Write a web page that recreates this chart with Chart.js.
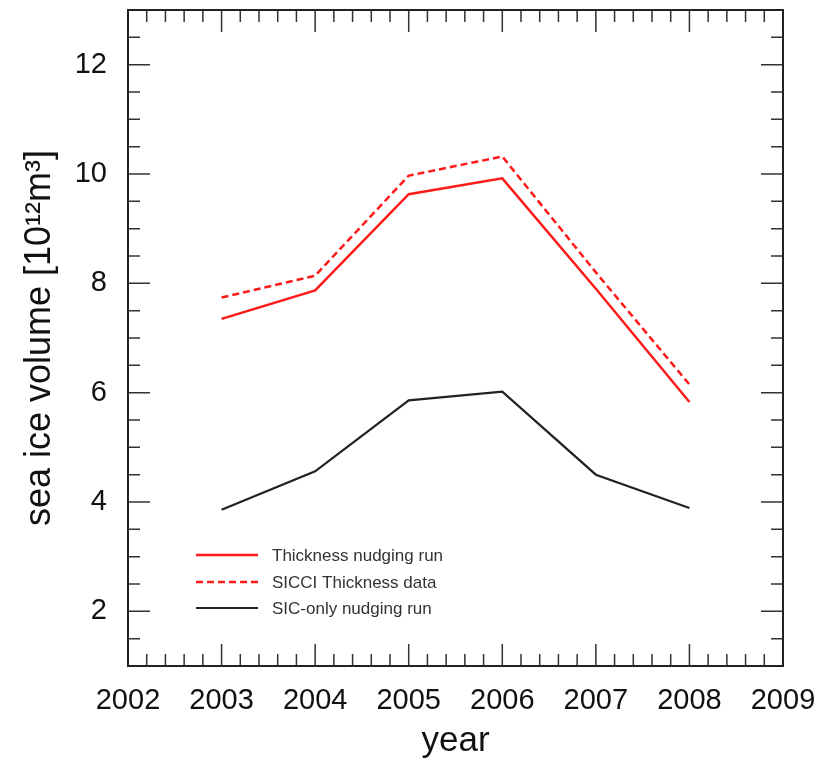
<!DOCTYPE html>
<html>
<head>
<meta charset="utf-8">
<script src="https://cdn.jsdelivr.net/npm/chart.js@4.4.1/dist/chart.umd.min.js"></script>
<style>
  body { margin: 0; background: #fff; }
  #mycanvas { display: block; }
</style>
</head>
<body>
<canvas id="mycanvas" width="819" height="762"></canvas>
<script>
// data
var years = [2003, 2004, 2005, 2006, 2007, 2008];
var thicknessRun = [7.35, 7.87, 9.63, 9.92, 7.90, 5.83];
var sicciData = [7.74, 8.14, 9.97, 10.32, 8.20, 6.15];
var sicOnlyRun = [3.86, 4.56, 5.86, 6.02, 4.50, 3.89];

var xTicks = [2002, 2003, 2004, 2005, 2006, 2007, 2008, 2009];
var yTicks = [2, 4, 6, 8, 10, 12];
var seriesNames = ['Thickness nudging run', 'SICCI Thickness data', 'SIC-only nudging run'];

function pts(vals) {
	var out = [];
	for (var i in years) {
		out.push({x: years[i], y: vals[i]});
	}
	return out;
}

// stop chart.js from growing the padding for the edge tick labels
function noPad(s) {
	s.paddingTop = 0;
	s.paddingBottom = 0;
	s.paddingLeft = 0;
	s.paddingRight = 0;
}

var frameTicks = {
	id: 'frameTicks',
	afterDraw: function(chart) {
		var ctx = chart.ctx;
		var a = chart.chartArea;
		var x = chart.scales.x, y = chart.scales.y;
		ctx.save();
		ctx.strokeStyle = '#333';
		ctx.lineWidth = 1.5;
		ctx.beginPath();
		// minor ticks every 0.2 yr, major every year, on bottom and top
		for (var i = 0; i <= 35; i++) {
			var px = x.getPixelForValue(2002 + i * 0.2);
			var len = (i % 5 === 0) ? 22 : 12;
			ctx.moveTo(px, a.bottom); ctx.lineTo(px, a.bottom - len);
			ctx.moveTo(px, a.top); ctx.lineTo(px, a.top + len);
		}
		// minor ticks every 0.5, major every 2, on left and right
		for (var j = 0; j <= 24; j++) {
			var v = 1 + j * 0.5;
			var py = y.getPixelForValue(v);
			var l = (v % 2 === 0) ? 22 : 12;
			ctx.moveTo(a.left, py); ctx.lineTo(a.left + l, py);
			ctx.moveTo(a.right, py); ctx.lineTo(a.right - l, py);
		}
		ctx.stroke();
		ctx.lineWidth = 2;
		ctx.strokeStyle = '#222';
		ctx.strokeRect(a.left, a.top, a.right - a.left, a.bottom - a.top);

		// legend inside the plot
		var rows = [555, 582, 608];
		ctx.font = '17px "Liberation Sans", Arial, sans-serif';
		ctx.textBaseline = 'middle';
		ctx.textAlign = 'left';
		chart.data.datasets.forEach(function(ds, k) {
			ctx.beginPath();
			ctx.strokeStyle = ds.borderColor;
			ctx.lineWidth = ds.borderWidth;
			ctx.setLineDash(ds.borderDash || []);
			ctx.moveTo(196, rows[k]);
			ctx.lineTo(258, rows[k]);
			ctx.stroke();
			ctx.setLineDash([]);
			ctx.fillStyle = '#333';
			ctx.fillText(ds.label, 272, rows[k] + 1);
		});
		ctx.restore();
	}
};

var ctx = document.getElementById('mycanvas');
var chart = new Chart(ctx, {
	type: 'line',
	data: {
		datasets: [
			{
				label: seriesNames[0],
				data: pts(thicknessRun),
				borderColor: '#ff1a1a',
				borderWidth: 2.5
			},
			{
				label: seriesNames[1],
				data: pts(sicciData),
				borderColor: '#ff1a1a',
				borderWidth: 2.5,
				borderDash: [7, 4]
			},
			{
				label: seriesNames[2],
				data: pts(sicOnlyRun),
				borderColor: '#222',
				borderWidth: 2.2
			}
		]
	},
	options: {
		responsive: false,
		animation: false,
		layout: { padding: { top: 10, right: 36, left: 0, bottom: 0 } },
		elements: {
			point: { radius: 0 },
			line: { tension: 0, borderJoinStyle: 'miter' }
		},
		plugins: {
			legend: { display: false },
			tooltip: { enabled: false }
		},
		scales: {
			x: {
				type: 'linear',
				min: 2002,
				max: 2009,
				grid: { display: false, drawTicks: false },
				border: { display: false },
				afterBuildTicks: function(s) {
					s.ticks = xTicks.map(function(v) { return {value: v}; });
				},
				afterFit: function(s) { s.height = 96; noPad(s); },
				ticks: {
					padding: 18,
					maxRotation: 0,
					color: '#111',
					font: { family: '"Liberation Sans", Arial, sans-serif', size: 29 },
					callback: function(v) { return String(v); }
				},
				title: {
					display: true,
					text: 'year',
					color: '#111',
					padding: { top: 0, bottom: 0 },
					font: { family: '"Liberation Sans", Arial, sans-serif', size: 35 }
				}
			},
			y: {
				min: 1,
				max: 13,
				grid: { display: false, drawTicks: false },
				border: { display: false },
				afterBuildTicks: function(s) {
					s.ticks = yTicks.map(function(v) { return {value: v}; });
				},
				afterFit: function(s) { s.width = 128; noPad(s); },
				ticks: {
					padding: 21,
					color: '#111',
					font: { family: '"Liberation Sans", Arial, sans-serif', size: 29 },
					callback: function(v) { return String(v); }
				},
				title: {
					display: true,
					text: 'sea ice volume [10¹²m³]',
					color: '#111',
					padding: { top: 18, bottom: 0 },
					font: { family: '"Liberation Sans", Arial, sans-serif', size: 36 }
				}
			}
		}
	},
	plugins: [frameTicks]
});
</script>
</body>
</html>
